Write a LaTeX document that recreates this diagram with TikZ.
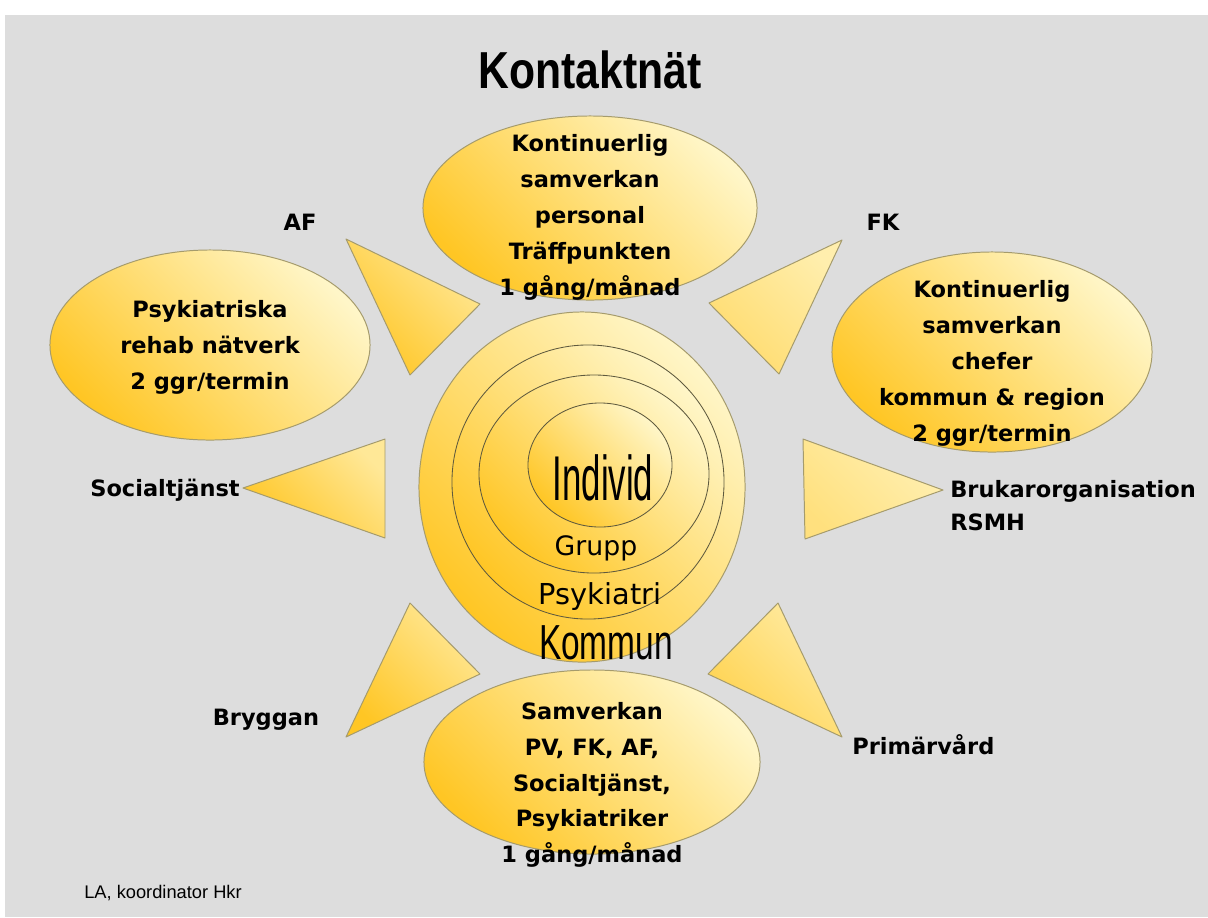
\documentclass[tikz,border=0pt]{standalone}
\usepackage{fontspec}
\setmainfont{DejaVu Sans}
\newfontfamily\arialfont{Liberation Sans}
\usetikzlibrary{shapes.geometric}
\definecolor{bg}{RGB}{221,221,221}
\definecolor{deep}{RGB}{255,198,36}
\definecolor{pale}{RGB}{255,246,200}
\definecolor{rim}{RGB}{165,155,108}
\definecolor{ringline}{RGB}{95,90,62}
\begin{document}
\begin{tikzpicture}[x=0.025cm,y=-0.025cm,line join=round,
 bubble/.style={ellipse,draw=rim,line width=.7pt,inner sep=0,bottom color=deep,top color=pale,shading angle=-45},
 ring/.style={bubble,draw=ringline,line width=.6pt},
 wedge/.style={draw=rim,line width=.7pt,bottom color=#1,top color=pale!70!#1,shading angle=-45},
 wedge/.default=deep,
 txt/.style={font=\fontsize{16}{25.6}\selectfont\bfseries,align=center,inner sep=0},
 lbl/.style={font=\fontsize{16}{23.4}\selectfont\bfseries,align=left,inner sep=0}]
\useasboundingbox (0,0) rectangle (1208,917);
\fill[white] (0,0) rectangle (1208,917);
\fill[bg] (5,15) rectangle (1208,917);
\node[font=\arialfont\bfseries\fontsize{37}{37}\selectfont,xscale=.82] (title) at (590,70) {Kontaktnät};
\path[wedge] (346,239)--(480,304)--(410,375)--cycle;
\path[wedge=deep!55!pale] (842,240)--(709,303)--(779,374)--cycle;
\path[wedge] (243,488)--(385,439)--(385,538)--cycle;
\path[wedge=deep!45!pale] (803,439)--(943,490)--(805,539)--cycle;
\path[wedge] (410,603)--(480,674)--(346,737)--cycle;
\path[wedge=deep!75!pale] (778,603)--(708,674)--(842,737)--cycle;
\node[bubble,minimum width=8.35cm,minimum height=4.6cm] (top) at (590,208) {};
\node[bubble,minimum width=8cm,minimum height=4.75cm] (left) at (210,345) {};
\node[bubble,minimum width=8cm,minimum height=5cm] (right) at (992,352) {};
\node[bubble,minimum width=8.4cm,minimum height=4.6cm] (bottom) at (592,762) {};
\node[bubble,minimum width=8.15cm,minimum height=8.75cm] (kommun) at (582,487) {};
\node[ring,minimum width=6.8cm,minimum height=6.85cm] (psykiatri) at (588,482) {};
\node[ring,minimum width=5.75cm,minimum height=4.95cm] (grupp) at (594,474) {};
\node[ring,minimum width=3.6cm,minimum height=3.1cm] (individ) at (600,465) {};
\node[txt] (topTxt) at (590,217) {Kontinuerlig\\samverkan\\personal\\Träffpunkten\\1 gång/månad};
\node[txt] (leftTxt) at (210,347) {Psykiatriska\\rehab nätverk\\2 ggr/termin};
\node[txt] (rightTxt) at (992,363) {Kontinuerlig\\samverkan\\chefer\\kommun \& region\\2 ggr/termin};
\node[txt,font=\fontsize{16}{25.4}\selectfont\bfseries] (bottomTxt) at (592,785) {Samverkan\\PV, FK, AF,\\Socialtjänst,\\Psykiatriker\\1 gång/månad};
\node[font=\arialfont\fontsize{45}{45}\selectfont,xscale=.55] (individTxt) at (603,478) {Individ};
\node[font=\fontsize{19}{19}\selectfont] (gruppTxt) at (596,548) {Grupp};
\node[font=\fontsize{20.5}{20.5}\selectfont] (psykiatriTxt) at (600,597) {Psykiatri};
\node[font=\arialfont\fontsize{35}{35}\selectfont,xscale=.68] (kommunTxt) at (606,643) {Kommun};
\node[lbl] (af) at (300,222) {AF};
\node[lbl] (fk) at (883,222) {FK};
\node[lbl,anchor=east] (social) at (240,490) {Socialtjänst};
\node[lbl,anchor=west] (brukar) at (950,506) {Brukarorganisation\\RSMH};
\node[lbl] (bryggan) at (266,720) {Bryggan};
\node[lbl,anchor=west] (primar) at (852,745) {Primärvård};
\node[font=\arialfont\fontsize{13}{13}\selectfont] (sign) at (163,893) {LA, koordinator Hkr};
\end{tikzpicture}
\end{document}
